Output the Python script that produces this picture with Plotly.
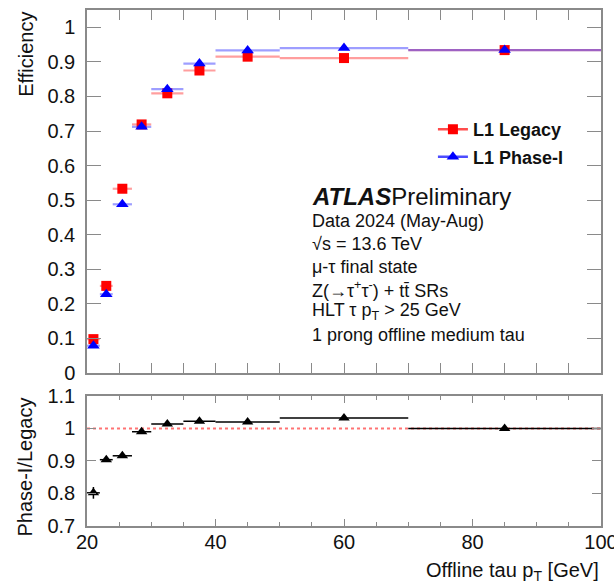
import plotly.graph_objects as go

# Offline tau pT binning [GeV]
bin_edges = [20, 22, 24, 27, 30, 35, 40, 50, 70, 100]

# Trigger efficiencies per bin
eff_legacy = [0.098, 0.252, 0.533, 0.719, 0.809, 0.875, 0.915, 0.911, 0.934]
eff_legacy_err = [0.006, 0.006, 0.006, 0.005, 0.004, 0.004, 0.003, 0.003, 0.003]
eff_phase1 = [0.079, 0.228, 0.488, 0.712, 0.821, 0.895, 0.933, 0.940, 0.934]
eff_phase1_err = [0.006, 0.006, 0.006, 0.005, 0.004, 0.004, 0.003, 0.003, 0.003]

# Phase-I / Legacy ratio
ratio = [0.802, 0.904, 0.916, 0.990, 1.014, 1.022, 1.020, 1.032, 1.000]
ratio_err = [0.018, 0.007, 0.006, 0.005, 0.004, 0.004, 0.003, 0.003, 0.003]

top_ticks = [0, 0.1, 0.2, 0.3, 0.4, 0.5, 0.6, 0.7, 0.8, 0.9, 1.0]
top_ticktext = ["0", "0.1", "0.2", "0.3", "0.4", "0.5", "0.6", "0.7", "0.8", "0.9", "1"]
ratio_ticks = [0.7, 0.8, 0.9, 1.0, 1.1]
ratio_ticktext = ["0.7", "0.8", "0.9", "1", "1.1"]
x_ticks = [20, 40, 60, 80, 100]

info_lines = [
    "Data 2024 (May-Aug)",
    "√s = 13.6 TeV",
    "μ-τ final state",
    "Z(→τ<sup>+</sup>τ<sup>-</sup>) + tt\u0304 SRs",
    "HLT τ p<sub>T</sub> &gt; 25 GeV",
    "1 prong offline medium tau",
]

centers = [(lo + hi) / 2 for lo, hi in zip(bin_edges[:-1], bin_edges[1:])]
half_w = [(hi - lo) / 2 for lo, hi in zip(bin_edges[:-1], bin_edges[1:])]

FONT = "Liberation Sans, Arial, Helvetica, sans-serif"
FRAME = "#8a8a8a"
RED_BAR = "rgba(255,0,0,0.38)"
BLUE_BAR = "rgba(0,0,255,0.38)"

fig = go.Figure()

fig.add_trace(go.Scatter(
    x=centers, y=eff_legacy, mode="markers", showlegend=False, legendgroup="a",
    xaxis="x2", yaxis="y2",
    marker=dict(symbol="square", size=10, color="#ff0000"),
    error_x=dict(type="data", array=half_w, color=RED_BAR, thickness=2.2, width=0),
    error_y=dict(type="data", array=eff_legacy_err, color="rgba(255,0,0,0.6)", thickness=1.5, width=0),
))
fig.add_trace(go.Scatter(
    x=centers, y=eff_phase1, mode="markers", showlegend=False, legendgroup="b",
    xaxis="x2", yaxis="y2",
    marker=dict(symbol="triangle-up", size=11, color="#0000ff"),
    error_x=dict(type="data", array=half_w, color=BLUE_BAR, thickness=2.2, width=0),
    error_y=dict(type="data", array=eff_phase1_err, color="rgba(0,0,255,0.6)", thickness=1.5, width=0),
))
fig.add_trace(go.Scatter(
    x=centers, y=ratio, mode="markers", showlegend=False,
    xaxis="x", yaxis="y",
    marker=dict(symbol="triangle-up", size=10, color="#000000"),
    error_x=dict(type="data", array=half_w, color="#000000", thickness=1.5, width=0),
    error_y=dict(type="data", array=ratio_err, color="#000000", thickness=1.5, width=0),
))

# legend keys (marker with a bar through it)
fig.add_trace(go.Scatter(
    x=[None], y=[None], mode="lines+markers", name="<b>L1 Legacy</b>", legendgroup="a",
    xaxis="x2", yaxis="y2",
    marker=dict(symbol="square", size=10, color="#ff0000"),
    line=dict(color="rgba(255,0,0,0.7)", width=2.5),
))
fig.add_trace(go.Scatter(
    x=[None], y=[None], mode="lines+markers", name="<b>L1 Phase-I</b>", legendgroup="b",
    xaxis="x2", yaxis="y2",
    marker=dict(symbol="triangle-up", size=11, color="#0000ff"),
    line=dict(color="rgba(0,0,255,0.7)", width=2.5),
))

# unity reference in the ratio panel
fig.add_shape(type="line", xref="x domain", yref="y", x0=0, x1=1, y0=1, y1=1,
              line=dict(color="rgba(255,0,0,0.55)", width=2, dash="dot"), layer="below")

axis_common = dict(showline=True, mirror="ticks", linecolor=FRAME, linewidth=1.5,
                   tickcolor=FRAME, tickwidth=1.2, ticks="inside", zeroline=False,
                   showgrid=False, automargin=False)

fig.update_layout(
    width=614, height=583,
    margin=dict(l=87, r=13, t=10, b=57, autoexpand=False),
    paper_bgcolor="white", plot_bgcolor="white",
    font=dict(family=FONT, color="#111111", size=20),
    xaxis=dict(domain=[0, 1], anchor="y", range=[20, 100], tickvals=x_ticks,
               ticklen=7, ticklabelstandoff=-3, ticklabeloverflow="allow",
               minor=dict(ticks="inside", dtick=5, ticklen=4, tickcolor=FRAME, tickwidth=1.2),
               tickfont=dict(size=20), **axis_common),
    xaxis2=dict(domain=[0, 1], anchor="y2", matches="x", range=[20, 100],
                tickvals=x_ticks, showticklabels=False, ticklen=10,
                minor=dict(ticks="inside", dtick=5, ticklen=10, tickcolor=FRAME, tickwidth=1.2),
                **axis_common),
    yaxis=dict(domain=[0, 0.252], anchor="x", range=[0.7, 1.1],
               tickvals=ratio_ticks, ticktext=ratio_ticktext, ticklen=9,
               ticklabelstandoff=6, tickfont=dict(size=20), **axis_common),
    yaxis2=dict(domain=[0.2965, 1], anchor="x2", range=[0, 1.05],
                tickvals=top_ticks, ticktext=top_ticktext, ticklen=14,
                ticklabelstandoff=6, tickfont=dict(size=20), **axis_common),
    legend=dict(x=0.673, y=0.804, xanchor="left", yanchor="top",
                bgcolor="rgba(0,0,0,0)", font=dict(size=18, family=FONT, color="#111111"),
                traceorder="grouped", tracegroupgap=1, itemwidth=30),
)

annotations = []
# axis titles
annotations.append(dict(text="Efficiency", xref="paper", yref="paper", x=-0.12, y=1.0,
                        xanchor="center", yanchor="top", textangle=-90, showarrow=False,
                        font=dict(size=20)))
annotations.append(dict(text="Phase-I/Legacy", xref="paper", yref="paper", x=-0.12, y=0.114,
                        xanchor="center", yanchor="middle", textangle=-90, showarrow=False,
                        font=dict(size=20)))
annotations.append(dict(text="Offline tau p<sub>T</sub> [GeV]", xref="paper", yref="paper",
                        x=1.0, y=-0.088, xanchor="right", yanchor="middle", showarrow=False,
                        font=dict(size=20)))

# experiment label and selection summary
x_txt = (310 - 87) / 514
annotations.append(dict(text="<b><i>ATLAS</i></b>Preliminary", xref="paper", yref="paper",
                        x=x_txt, y=(526 - 196) / 516, xanchor="left", yanchor="middle",
                        showarrow=False, font=dict(size=24)))
line_px = [221.5, 244.0, 266.5, 289.5, 312.0, 334.5]
for txt, py in zip(info_lines, line_px):
    annotations.append(dict(text=txt, xref="paper", yref="paper", x=x_txt,
                            y=(526 - py) / 516, xanchor="left", yanchor="middle",
                            showarrow=False, font=dict(size=18)))

fig.update_layout(annotations=annotations)

fig.write_html("out.html")
